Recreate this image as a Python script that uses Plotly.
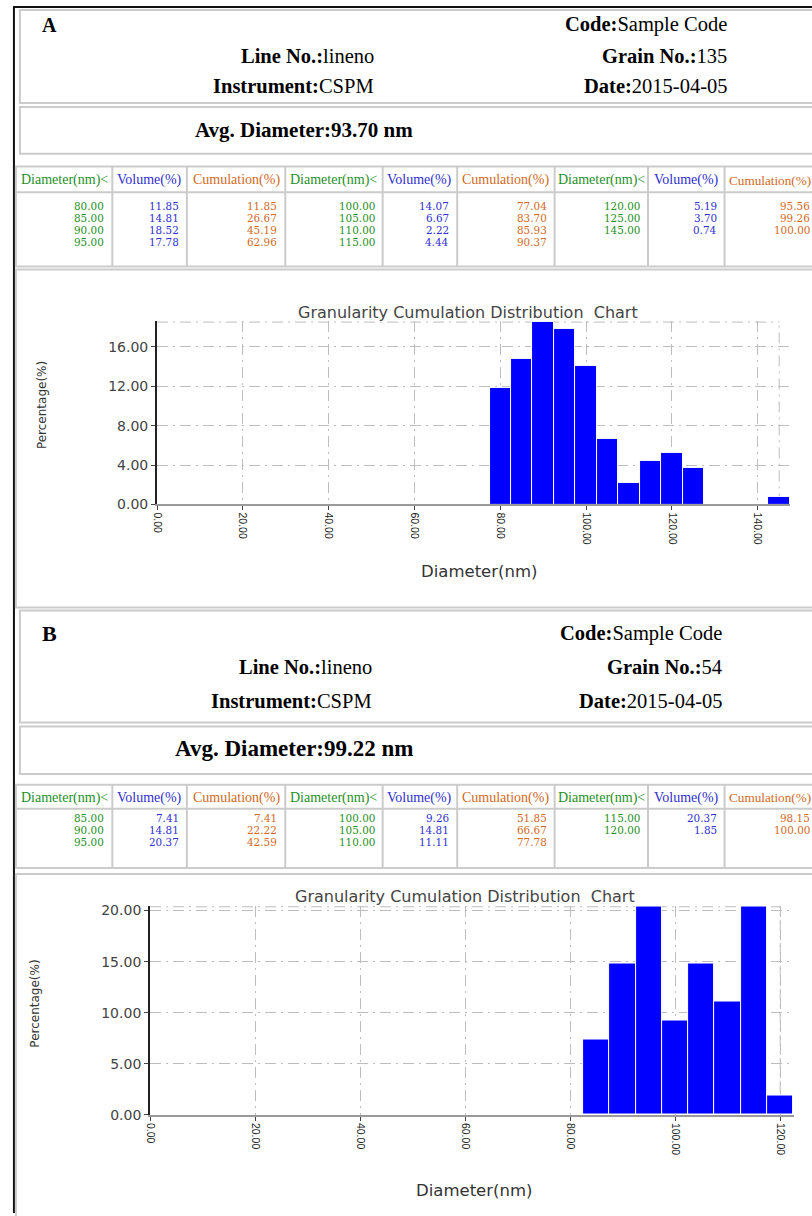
import math
import plotly.graph_objects as go

W, H = 812, 1216

# ---------------- data ----------------
a_diam = [80, 85, 90, 95, 100, 105, 110, 115, 120, 125, 145]
a_vol = [11.85, 14.81, 18.52, 17.78, 14.07, 6.67, 2.22, 4.44, 5.19, 3.70, 0.74]
a_cum = [11.85, 26.67, 45.19, 62.96, 77.04, 83.70, 85.93, 90.37, 95.56, 99.26, 100.00]

b_diam = [85, 90, 95, 100, 105, 110, 115, 120]
b_vol = [7.41, 14.81, 20.37, 9.26, 14.81, 11.11, 20.37, 1.85]
b_cum = [7.41, 22.22, 42.59, 51.85, 66.67, 77.78, 98.15, 100.00]

a_label, b_label = "A", "B"
a_grain, b_grain = 135, 54
a_avg, b_avg = 93.70, 99.22
code_txt = "Sample Code"
line_txt = "lineno"
instr_txt = "CSPM"
date_txt = "2015-04-05"

a_yticks = [0, 4, 8, 12, 16]
b_yticks = [0, 5, 10, 15, 20]
a_xticks = [0, 20, 40, 60, 80, 100, 120, 140]
b_xticks = [0, 20, 40, 60, 80, 100, 120]

col_heads = ["Diameter(nm)&lt;", "Volume(%)", "Cumulation(%)"]
chart_title = "Granularity Cumulation Distribution\u00a0 Chart"

# ---------------- styling ----------------
GREEN, BLUE, ORANGE = "#1f8f1f", "#3030d0", "#d2691e"
BOX = "#cbcbcb"
GRID = "#bdbdbd"
DASH = "11px,5px,2px,5px"
SERIF = "Liberation Serif"
TSERIF = "DejaVu Serif"
SANS = "DejaVu Sans"
BAR_W = 5


def px(x):
    return x / W


def py(y):
    return 1 - y / H


shapes = []
annotations = []


def rect(x0, y0, x1, y1, color=BOX, w=2):
    shapes.append(dict(type="rect", xref="paper", yref="paper",
                       x0=px(x0), x1=px(x1), y0=py(y1), y1=py(y0),
                       line=dict(color=color, width=w),
                       fillcolor="rgba(0,0,0,0)", layer="above"))


def hline(x0, x1, y, color=BOX, w=2):
    shapes.append(dict(type="line", xref="paper", yref="paper",
                       x0=px(x0), x1=px(x1), y0=py(y), y1=py(y),
                       line=dict(color=color, width=w), layer="above"))


def vline(x, y0, y1, color=BOX, w=2):
    shapes.append(dict(type="line", xref="paper", yref="paper",
                       x0=px(x), x1=px(x), y0=py(y0), y1=py(y1),
                       line=dict(color=color, width=w), layer="above"))


def text(x, y, s, size, color="#000", anchor="center", family=SERIF, angle=0):
    annotations.append(dict(xref="paper", yref="paper", x=px(x), y=py(y),
                            text=s, showarrow=False, xanchor=anchor,
                            yanchor="middle", textangle=angle, borderpad=0,
                            font=dict(family=family, size=size, color=color)))


# outer black frame
vline(9, 3, H + 5, color="#111", w=2)
hline(9, W + 5, 4, color="#111", w=2)

SEPS = [11, 108, 183, 282, 380, 455, 553, 647, 724, 820]


def header(top, label, grain, avg, lines_y, avg_y, box_bottom, avg_top, avg_bottom,
           lab_size, avg_size, right2, right1):
    rect(15, top, 820, box_bottom)
    rect(15, avg_top, 820, avg_bottom)
    text(36, lines_y[0], "<b>%s</b>" % label, lab_size, anchor="left")
    text(right2, lines_y[0], "<b>Code:</b>%s" % code_txt, 20.5, anchor="right")
    text(right1, lines_y[1], "<b>Line No.:</b>%s" % line_txt, 20.5, anchor="right")
    text(right2, lines_y[1], "<b>Grain No.:</b>%d" % grain, 20.5, anchor="right")
    text(right1, lines_y[2], "<b>Instrument:</b>%s" % instr_txt, 20.5, anchor="right")
    text(right2, lines_y[2], "<b>Date:</b>%s" % date_txt, 20.5, anchor="right")
    text(412, avg_y, "<b>Avg. Diameter:%.2f nm</b>" % avg, avg_size, anchor="right")


def table(top, head_bottom, bottom, head_y, row_y0, row_dy, diam, vol, cum):
    rect(SEPS[0], top, SEPS[-1], bottom)
    hline(SEPS[0], SEPS[-1], head_bottom)
    for x in SEPS[1:-1]:
        vline(x, top, bottom)
    colors = [GREEN, BLUE, ORANGE]
    for i in range(9):
        if i == 8:
            text(811.5, head_y, col_heads[i % 3], 13.2, color=colors[i % 3],
                 anchor="right", family=SERIF)
        else:
            cx = (SEPS[i] + SEPS[i + 1]) / 2
            text(cx, head_y, col_heads[i % 3], 14, color=colors[i % 3], family=SERIF)
    n = len(diam)
    rows = math.ceil(n / 3)
    for k in range(n):
        g, r = divmod(k, rows)
        y = row_y0 + r * row_dy
        vals = [diam[k], vol[k], cum[k]]
        for j in range(3):
            ci = g * 3 + j
            xr = min(SEPS[ci + 1] - 7, 811)
            text(xr, y, "%.2f" % vals[j], 10.4,
                 color=colors[j], anchor="right", family=TSERIF)


# ---------- panel A ----------
header(7, a_label, a_grain, a_avg, [22, 53, 84], 128, 101, 105, 152, 20, 21, 727, 372)
table(165, 191, 266, 179, 205, 12.2, a_diam, a_vol, a_cum)
rect(11, 269, 820, 610)

# ---------- panel B ----------
header(613, b_label, b_grain, b_avg, [636, 670, 704], 752, 726, 730, 778, 22, 23, 722, 370)
table(789, 813, 873, 802, 822, 12.2, b_diam, b_vol, b_cum)
rect(11, 879, 820, H + 10)


# ---------- charts ----------
def chart(idx, diam, vol, xticks, yticks, left, right_at_max, bottom, top_at_max,
          title_xy, xtitle_xy, ytitle_xy):
    xmax_data = max(diam)
    ymax_data = max(vol)
    kx = (right_at_max - left) / xmax_data
    ky = (bottom - top_at_max) / ymax_data
    xr = xmax_data + BAR_W / 2 + 0.1
    yr = ymax_data + 0.12
    xdom = [px(left), px(left + xr * kx)]
    ydom = [py(bottom), py(bottom - yr * ky)]
    sfx = "" if idx == 1 else str(idx)
    xa = "x" + sfx
    ya = "y" + sfx
    fig.add_trace(go.Bar(x=diam, y=vol, width=BAR_W, xaxis=xa, yaxis=ya,
                         marker=dict(color="#0000ff", line=dict(color="#ffffff", width=1)),
                         showlegend=False))
    common = dict(showgrid=True, gridcolor=GRID, gridwidth=1, griddash=DASH,
                  zeroline=False, ticks="outside", ticklen=4, tickcolor="#444",
                  tickmode="array", tickformat=".2f", showline=True)
    fig.layout["xaxis" + sfx] = dict(domain=xdom, range=[0, xr], anchor=ya,
                                     tickvals=xticks, tickangle=90,
                                     tickfont=dict(family="Liberation Sans", size=10.5, color="#222"),
                                     linecolor="#9a9a9a", linewidth=2, **common)
    fig.layout["yaxis" + sfx] = dict(domain=ydom, range=[0, yr], anchor=xa,
                                     tickvals=yticks,
                                     tickfont=dict(family=SANS, size=14, color="#444"),
                                     linecolor="#222", linewidth=2, **common)
    # dash-dot frame on the top and right, at the data extremes
    shapes.append(dict(type="line", xref=xa, yref=ya, x0=0, x1=xmax_data,
                       y0=ymax_data, y1=ymax_data, layer="below",
                       line=dict(color=GRID, width=1, dash=DASH)))
    shapes.append(dict(type="line", xref=xa, yref=ya, x0=xmax_data, x1=xmax_data,
                       y0=0, y1=ymax_data, layer="below",
                       line=dict(color=GRID, width=1, dash=DASH)))
    text(title_xy[0], title_xy[1], chart_title, 16, color="#444", family=SANS)
    text(xtitle_xy[0], xtitle_xy[1], "Diameter(nm)", 16.5, color="#333", family=SANS)
    text(ytitle_xy[0], ytitle_xy[1], "Percentage(%)", 12, color="#333", family=SANS, angle=-90)


fig = go.Figure()
chart(1, a_diam, a_vol, a_xticks, a_yticks, 153, 779, 506, 322,
      (466, 312), (477, 574), (38, 406))
chart(2, b_diam, b_vol, b_xticks, b_yticks, 146, 780, 1122, 912,
      (463, 902), (472, 1198), (30, 1010))

fig.update_layout(width=W, height=H, autosize=False,
                  margin=dict(l=0, r=0, t=0, b=0),
                  paper_bgcolor="#ffffff", plot_bgcolor="rgba(0,0,0,0)",
                  shapes=shapes, annotations=annotations, bargap=0)

fig.write_html("out.html",
               config={"displayModeBar": False},
               post_script="document.body.style.margin='0';document.body.style.overflow='hidden';")
